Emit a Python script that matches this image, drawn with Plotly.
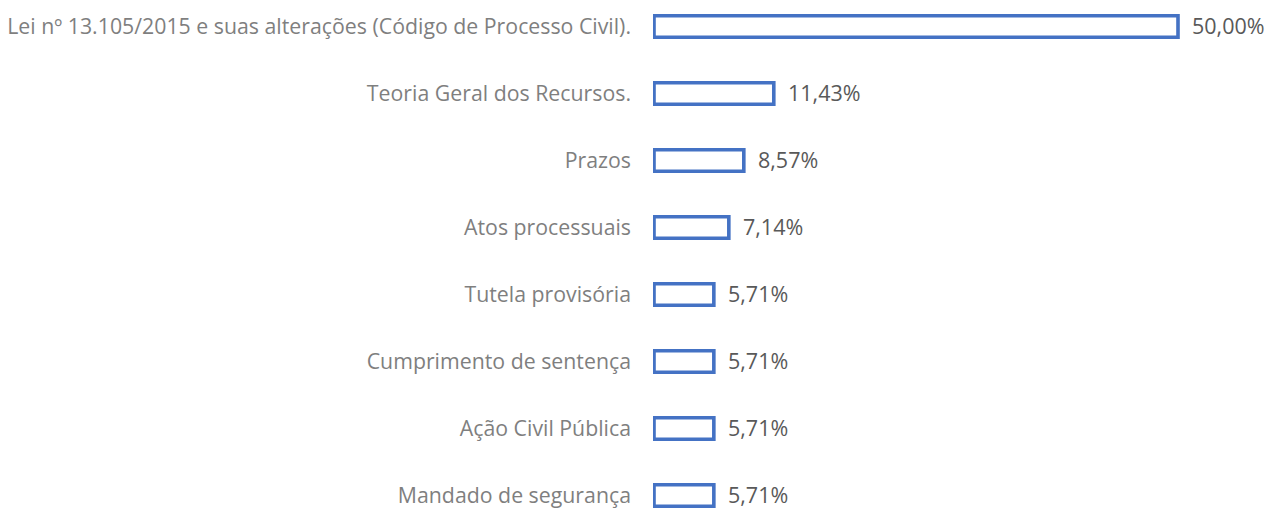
import plotly.graph_objects as go

categories = [
    "Lei nº 13.105/2015 e suas alterações (Código de Processo Civil).",
    "Teoria Geral dos Recursos.",
    "Prazos",
    "Atos processuais",
    "Tutela provisória",
    "Cumprimento de sentença",
    "Ação Civil Pública",
    "Mandado de segurança",
]
values = [50.00, 11.43, 8.57, 7.14, 5.71, 5.71, 5.71, 5.71]
value_labels = ["50,00%", "11,43%", "8,57%", "7,14%", "5,71%", "5,71%", "5,71%", "5,71%"]

FONT = "Open Sans"
W, H = 1266, 508
left = 653
px_per_unit = 10.48
x0 = -1.0 / px_per_unit
x1 = x0 + (W - left) / px_per_unit
row = 67.0
c0 = 26.5
y_top = -c0 / row
y_bot = (H - c0) / row
pos = list(range(len(categories)))

fig = go.Figure()
fig.add_trace(go.Bar(
    y=pos,
    x=values,
    orientation="h",
    width=21.5 / row,
    marker=dict(color="rgba(255,255,255,1)", line=dict(color="#4472C4", width=3.6)),
    hoverinfo="skip",
))

for p, v, t in zip(pos, values, value_labels):
    fig.add_annotation(
        x=v, y=p, xref="x", yref="y", text=t, showarrow=False,
        xanchor="left", yanchor="middle", xshift=12, yshift=1,
        font=dict(family=FONT, size=21.5, color="#595959"),
    )

fig.update_layout(
    width=W, height=H,
    margin=dict(l=left, r=0, t=0, b=0),
    paper_bgcolor="white", plot_bgcolor="white",
    showlegend=False,
    xaxis=dict(range=[x0, x1], visible=False),
    yaxis=dict(
        range=[y_bot, y_top],
        tickmode="array",
        tickvals=pos,
        ticktext=categories,
        tickfont=dict(family=FONT, size=21.3, color="#7F7F7F"),
        showgrid=False, zeroline=False, showline=False,
        ticks="", ticklabelstandoff=21, automargin=False,
        ticklabeloverflow="allow",
    ),
)
fig.write_html(
    "out.html",
    config={"displayModeBar": False},
    post_script="document.body.style.margin='0';document.body.style.overflow='hidden';",
)
